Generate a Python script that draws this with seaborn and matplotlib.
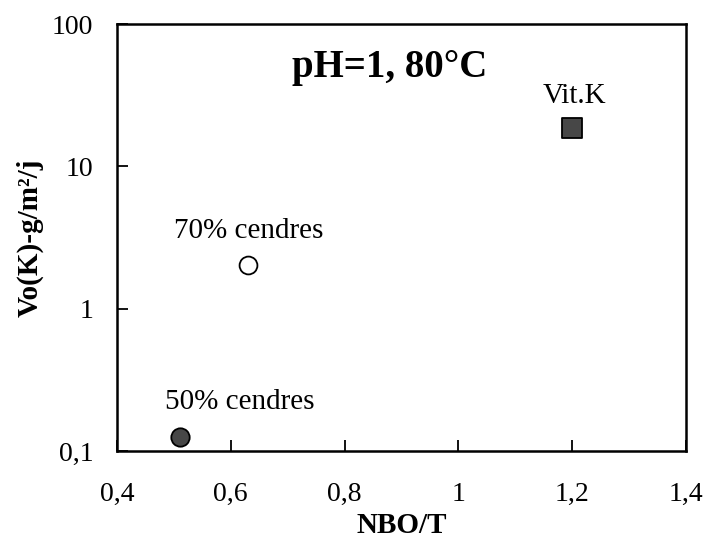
import matplotlib
matplotlib.use("Agg")
import matplotlib.pyplot as plt
import seaborn as sns
import pandas as pd
from matplotlib.ticker import FixedLocator, FixedFormatter

sns.set_theme(style="white")
plt.rcParams['font.family'] = ['Liberation Serif', 'DejaVu Serif']
plt.rcParams['text.color'] = 'black'
plt.rcParams['axes.labelcolor'] = 'black'

labels = ["50% cendres", "70% cendres", "Vit.K"]
nbo_t = [0.511, 0.630, 1.200]
vo_k = [0.125, 2.03, 18.6]
markers = ["o", "o", "s"]
fills = ["#474747", "#ffffff", "#474747"]
sizes = [175, 165, 215]
label_offsets = [(60, 28), (1, 27), (2, 25)]

x_ticks = [0.4, 0.6, 0.8, 1.0, 1.2, 1.4]
x_tick_labels = ["0,4", "0,6", "0,8", "1", "1,2", "1,4"]
y_ticks = [0.1, 1, 10, 100]
y_tick_labels = ["0,1", "1", "10", "100"]

df = pd.DataFrame({"label": labels, "x": nbo_t, "y": vo_k})

fig = plt.figure(figsize=(7.06, 5.41), dpi=100)
ax = fig.add_axes([0.1657, 0.1664, 0.806, 0.789])

for i, lab in enumerate(labels):
    sub = df[df["label"] == lab]
    sns.scatterplot(data=sub, x="x", y="y", marker=markers[i], color=fills[i],
                    edgecolor="black", linewidth=1.3, s=sizes[i], ax=ax,
                    legend=False, zorder=3)

ax.set_yscale("log")
ax.set_xlim(0.4, 1.4)
ax.set_ylim(0.1, 100)
ax.xaxis.set_major_locator(FixedLocator(x_ticks))
ax.xaxis.set_major_formatter(FixedFormatter(x_tick_labels))
ax.yaxis.set_major_locator(FixedLocator(y_ticks))
ax.yaxis.set_major_formatter(FixedFormatter(y_tick_labels))
ax.yaxis.set_minor_locator(FixedLocator([]))
ax.tick_params(axis="both", which="major", direction="in", length=8, width=1.3,
               labelsize=20, colors="black", bottom=True, left=True)
ax.tick_params(axis="x", pad=22)
ax.tick_params(axis="y", pad=17)

for sp in ax.spines.values():
    sp.set_visible(True)
    sp.set_color("black")
    sp.set_linewidth(1.8)

ax.set_xlabel("NBO/T", fontsize=21, fontweight="bold", labelpad=4, color="black")
ax.set_ylabel("Vo(K)-g/m²/j", fontsize=21, fontweight="bold", labelpad=6, color="black")

for lab, x, y, off in zip(labels, nbo_t, vo_k, label_offsets):
    ax.annotate(lab, xy=(x, y), xytext=off, textcoords="offset pixels",
                ha="center", va="baseline", fontsize=21, color="black")

ax.text(0.48, 0.876, "pH=1, 80°C", transform=ax.transAxes, ha="center",
        va="baseline", fontsize=28, fontweight="bold", color="black")

fig.savefig("out.png", dpi=100)
